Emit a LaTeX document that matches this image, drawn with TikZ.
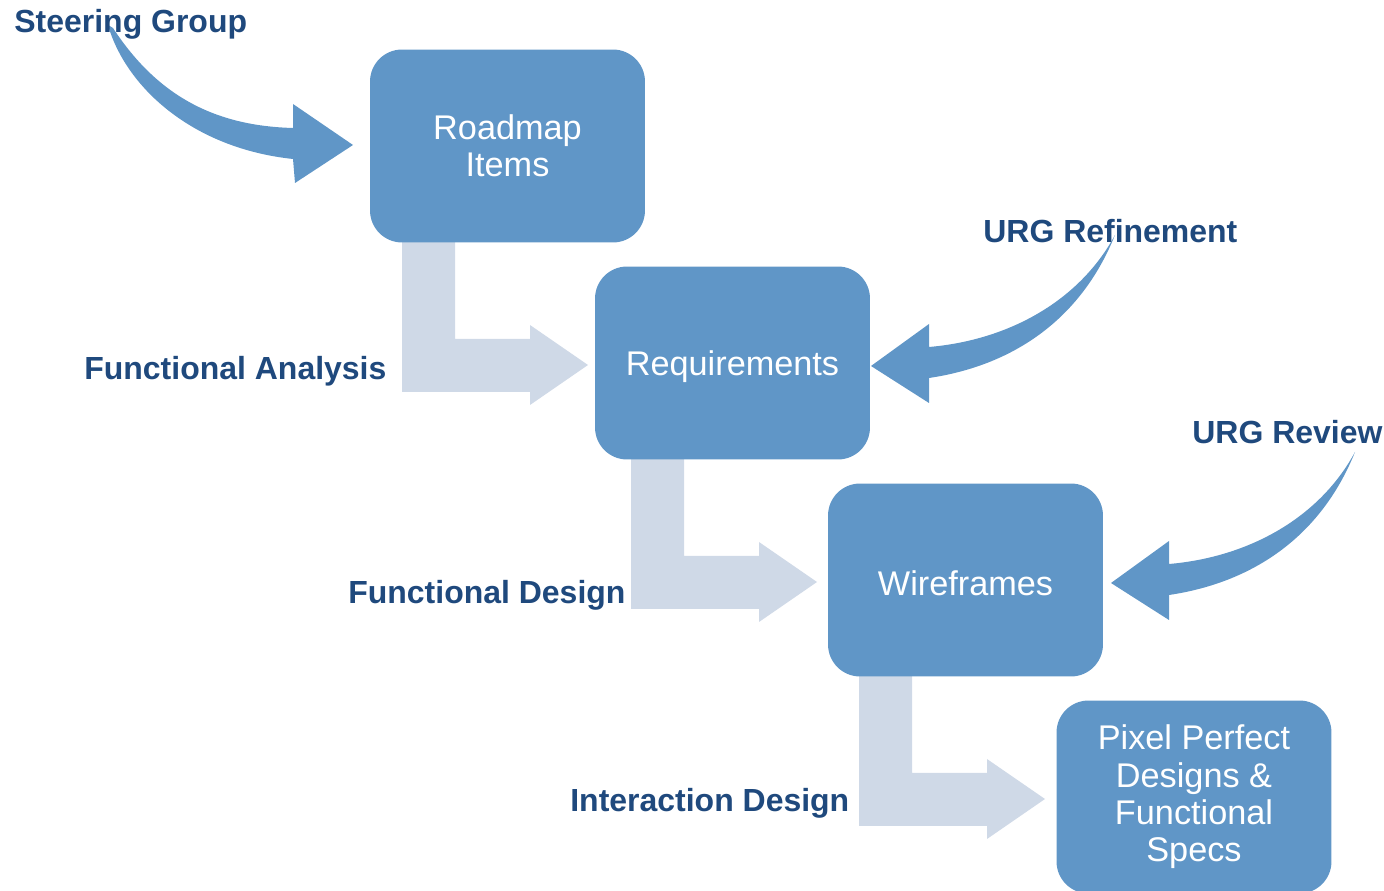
\documentclass[tikz,border=0pt]{standalone}
\usepackage{fontspec}
\setmainfont{Liberation Sans}
\definecolor{boxblue}{HTML}{6096C7}
\definecolor{paleblue}{HTML}{CFD9E7}
\definecolor{labelblue}{HTML}{1F497D}
\tikzset{
  stagebox/.style={fill=boxblue, rounded corners=0.64cm, minimum width=5.5cm,
    minimum height=3.86cm, inner sep=0pt, outer sep=0pt, align=center,
    text=white, font=\fontsize{19.5}{21.3}\selectfont,
    execute at begin node=\rule{0pt}{18pt}},
  steplabel/.style={anchor=base west, inner sep=0pt, text=labelblue,
    font=\fontsize{18.2}{20}\selectfont\bfseries}
}
\begin{document}
\begin{tikzpicture}[x=0.02cm, y=-0.02cm]

    % Page frame, in pixels of the reference
    \useasboundingbox (0,0) rectangle (1384,891);

    % Bent arrows between the stages (drawn first, boxes sit on top)
    \foreach \dx/\dy in {0/0, 229/217, 457/434} {
        \fill[paleblue, shift={(\dx*0.02cm,-\dy*0.02cm)}]
            (402,242) -- (455,242) -- (455,339) -- (530,339) -- (530,325)
            -- (588,365) -- (530,405) -- (530,392) -- (402,392) -- cycle;
    }

    % The four stages
    \node[stagebox] (roadmap) at (507.5,146) {Roadmap\\Items};
    \node[stagebox] (req) at (732.5,363) {Requirements};
    \node[stagebox] (wire) at (965.5,580) {Wireframes};
    \node[stagebox] (pixel) at (1194,797) {Pixel Perfect\\Designs \&\\Functional\\Specs};

    % Curved arrow from the steering group into the roadmap
    \fill[boxblue] (113,28) .. controls (160,100) and (220,126) .. (293,128)
        -- (293,104) -- (353,145) -- (295,183) -- (293,159)
        .. controls (190,148) and (125,85) .. (108,25) -- cycle;

    % Curved arrows from the URG into requirements and wireframes
    \foreach \dx/\dy in {0/0, 240/217} {
        \fill[boxblue, shift={(\dx*0.02cm,-\dy*0.02cm)}]
            (871,366) -- (929,324) -- (929,347)
            .. controls (1010,340) and (1080,300) .. (1115,235)
            .. controls (1080,322) and (1010,366) .. (929,378)
            -- (929,403) -- cycle;
    }

    % Labels
    \node[steplabel] (steering) at (14,33) {Steering Group};
    \node[steplabel] (refine) at (983,243) {URG Refinement};
    \node[steplabel] (review) at (1192,444) {URG Review};
    \node[steplabel] (fanalysis) at (84,380) {Functional Analysis};
    \node[steplabel] (fdesign) at (348,604) {Functional Design};
    \node[steplabel] (idesign) at (570,812) {Interaction Design};

\end{tikzpicture}
\end{document}
